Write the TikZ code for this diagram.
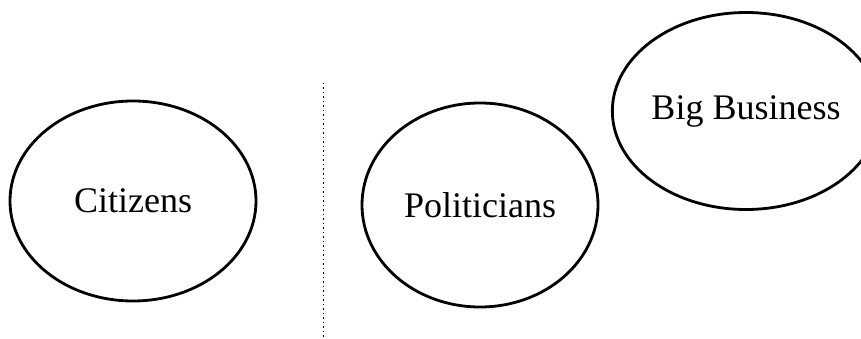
\documentclass[tikz,border=0pt]{standalone}
\usepackage{fontspec}
\setmainfont{Liberation Serif}
\usetikzlibrary{shapes.geometric}

\begin{document}
\begin{tikzpicture}[
				x=1pt, y=-1pt,
				actor/.style={ellipse, draw, line width=2.8pt, inner sep=0pt, font=\fontsize{36}{40}\selectfont},
				divider/.style={line width=1pt, dash pattern=on 1.5pt off 3pt}
				]
				
				\useasboundingbox (0, 0) rectangle (861, 339);
				
				\node[actor, minimum width=246pt, minimum height=200pt] (citizens) at (133, 201) {Citizens};
				\node[actor, minimum width=236pt, minimum height=204pt] (politicians) at (480, 205) {Politicians};
				\node[actor, minimum width=226pt, minimum height=197pt] (business) at (746, 111) {Big Business};
				
				\coordinate (divtop) at (323, 83);
				\coordinate (divbot) at (323, 339);
				\draw[divider] (divtop) -- (divbot);
			\end{tikzpicture}
\end{document}
